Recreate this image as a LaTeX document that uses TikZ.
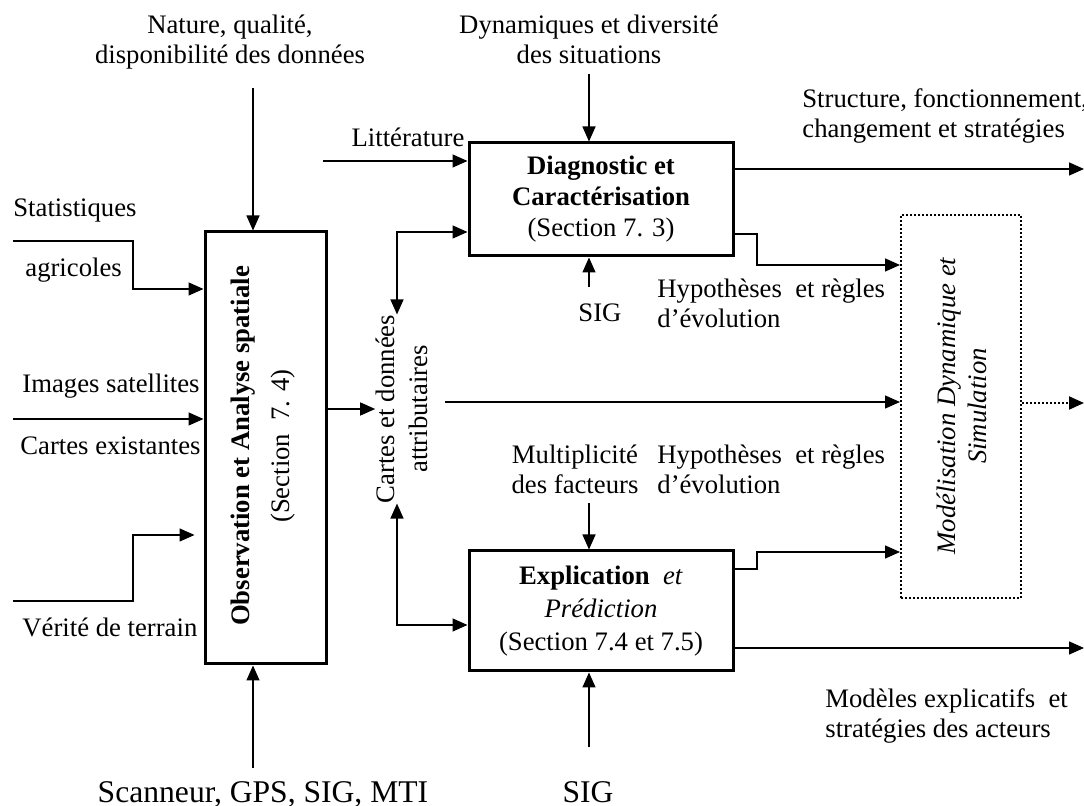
\documentclass[tikz,border=0pt]{standalone}
\usepackage{fontspec}
\setmainfont{Liberation Serif}
\usetikzlibrary{arrows.meta,positioning,calc}
\tikzset{
  boite/.style={draw, line width=1.5pt, inner sep=0pt, align=center},
  boitept/.style={draw, line width=1pt, dash pattern=on 1pt off 1pt, inner sep=0pt},
  fl/.style={-{Triangle[length=7.5pt,width=6.5pt]}, line width=0.75pt},
  fl2/.style={{Triangle[length=7.5pt,width=6.5pt]}-{Triangle[length=7.5pt,width=6.5pt]}, line width=0.75pt},
  flpt/.style={fl, dash pattern=on 1pt off 1pt, line width=1pt},
  et/.style={inner sep=0pt, align=left},
  etc/.style={inner sep=0pt, align=center},
  grand/.style={font=\fontsize{15.8}{18}\selectfont},
}

\begin{document}
\begin{tikzpicture}[x=0.5pt,y=-0.5pt,font=\fontsize{13.35}{15}\selectfont]
  \useasboundingbox (0,0) rectangle (1084,806);
  % boites
  \node[boite, minimum width=60.5pt, minimum height=216pt] (obs) at (265.5,448) {};
  \node[etc, rotate=90] (obstxt) at (263,446)
   {\textbf{Observation et Analyse spatiale}\\[5pt](Section~ 7. 4)};
  \node[boite, minimum width=132pt, minimum height=56.5pt] (diag) at (601,199.5)
   {\textbf{Diagnostic et}\\[0.5pt]\textbf{Caractérisation}\\[0.5pt](Section 7. 3)};
  \node[boite, minimum width=132pt, minimum height=60pt] (expl) at (601,611)
   {\textbf{Explication}~ \textit{et}\\[1.5pt]\textit{Prédiction}\\[1.5pt](Section 7.4 et 7.5)};
  \node[boitept, minimum width=60pt, minimum height=191.5pt] (mod) at (961,406.5) {};
  \node[etc, rotate=90] (modtxt) at (962,406)
   {\itshape Modélisation Dynamique et\\[0.5pt]\itshape Simulation};
  \node[etc, rotate=90] (cartes) at (401.5,409) {Cartes et données\\[1.5pt]attributaires};
  % textes
  \node[etc, anchor=base] (nat) at (230,64) {Nature, qualité,\\disponibilité des données};
  \node[etc, anchor=base] (dyn) at (589,64) {Dynamiques et diversité\\des situations};
  \node[et, anchor=base] (lit) at (408,147) {Littérature};
  \node[et, anchor=base west] (stat) at (13,217) {Statistiques};
  \node[et, anchor=base west] (agri) at (25,277) {agricoles};
  \node[et, anchor=base west] (img) at (22,393) {Images satellites};
  \node[et, anchor=base west] (cex) at (20,455) {Cartes existantes};
  \node[et, anchor=base west] (ver) at (22,637) {Vérité de terrain};
  \node[et, anchor=base west] (str) at (802,138) {Structure, fonctionnement,\\changement et stratégies};
  \node[et, anchor=base west] (hyp1) at (657,328) {Hypothèses~ et règles\\d’évolution};
  \node[et, anchor=base] (sig1) at (600,322) {SIG};
  \node[etc, anchor=base] (mult) at (575,494) {Multiplicité\\des facteurs};
  \node[et, anchor=base west] (hyp2) at (657,494) {Hypothèses~ et règles\\d’évolution};
  \node[et, anchor=base west] (mex) at (825,738) {Modèles explicatifs~ et\\stratégies des acteurs};
  \node[etc, grand, anchor=base] (scan) at (263,803) {Scanneur, GPS, SIG, MTI};
  \node[etc, grand, anchor=base] (sig2) at (588,803) {SIG};
  % bouts libres
  \coordinate (qn) at (253,88);
  \coordinate (qd) at (589,74);
  \coordinate (ql) at (323,161);
  \coordinate (qs) at (13,241);
  \coordinate (qi) at (13,419);
  \coordinate (qv) at (13,601);
  \coordinate (qsc) at (253,768);
  \coordinate (qsig) at (589,287);
  \coordinate (qm) at (589,503);
  \coordinate (qsig2) at (589,747);
  \coordinate (qc) at (445,402);
  \coordinate (rd) at (1084,169);
  \coordinate (rm) at (1084,403);
  \coordinate (re) at (1084,648);
  % fleches
  \draw[fl] (qn) -- (qn |- obs.north);
  \draw[fl] (qs) -- ++(120,0) |- (obs.west |- 0,289);
  \draw[fl] (qi) -- (qi -| obs.west);
  \draw[fl] (qv) -- ++(120,0) |- ([xshift=-4.5pt]obs.west |- 0,535);
  \draw[fl] (qsc) -- (qsc |- obs.south);
  \draw[fl] (obs.east |- cartes.north) -- (cartes.north);
  \draw[fl2] (397,0 |- cartes.east) |- (diag.west |- 0,232);
  \draw[fl2] (397,0 |- cartes.west) |- (expl.west |- 0,625);
  \draw[fl] (qc) -- (qc -| mod.west);
  \draw[fl] (qd) -- (qd |- diag.north);
  \draw[fl] (ql) -- (ql -| diag.west);
  \draw[fl] (qsig) -- (qsig |- diag.south);
  \draw[fl] (diag.east |- rd) -- (rd);
  \draw[fl] (diag.east |- 0,234) -| (757,265) -- (mod.west |- 0,265);
  \draw[fl] (qm) -- (qm |- expl.north);
  \draw[fl] (qsig2) -- (qsig2 |- expl.south);
  \draw[fl] (expl.east |- 0,569) -| (757,552) -- (mod.west |- 0,552);
  \draw[fl] (expl.east |- re) -- (re);
  \draw[flpt] (mod.east |- rm) -- (rm);
\end{tikzpicture}
\end{document}
